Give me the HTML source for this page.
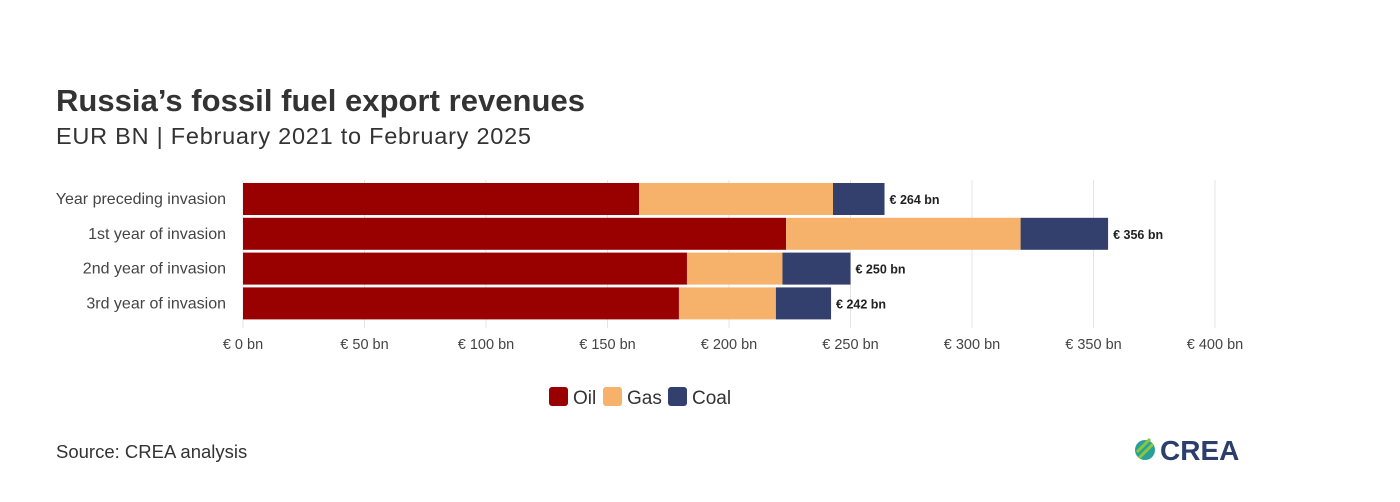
<!DOCTYPE html>
<html><head><meta charset="utf-8"><style>
body{margin:0;background:#fff;width:1400px;height:497px;overflow:hidden;font-family:"Liberation Sans",sans-serif}
</style></head><body>
<svg width="1400" height="497" xmlns="http://www.w3.org/2000/svg">
<text x="56" y="111" font-size="31" font-weight="bold" fill="#333" textLength="529">Russia’s fossil fuel export revenues</text>
<text x="56" y="144" font-size="23.5" fill="#333" textLength="475">EUR BN | February 2021 to February 2025</text>
<g id="grid"></g>
<g id="bars"></g>
<g id="labels"></g>
<g>
<rect x="549" y="387" width="19" height="19" rx="3" fill="#990000"/>
<text x="573" y="404" font-size="19" fill="#333">Oil</text>
<rect x="603" y="387" width="19" height="19" rx="3" fill="#f6b26b"/>
<text x="627" y="404" font-size="19" fill="#333">Gas</text>
<rect x="668" y="387" width="19" height="19" rx="3" fill="#33406e"/>
<text x="692" y="404" font-size="19" fill="#333">Coal</text>
</g>
<text x="56" y="458" font-size="18.5" fill="#333">Source: CREA analysis</text>
<g>
<circle cx="1145" cy="450" r="10" fill="#2aa198"/>
<path d="M1137 452 L1150 439 M1139 458 L1153 444" stroke="#8cc63f" stroke-width="3"/>
<text x="1160" y="460" font-size="28" font-weight="bold" fill="#2c3e6b">CREA</text>
</g>
</svg>
<script>
const categories=["Year preceding invasion","1st year of invasion","2nd year of invasion","3rd year of invasion"];
const oil=[163,223.5,182.7,179.4];
const gas=[79.8,96.5,39.3,39.9];
const coal=[21.2,36,28,22.7];
const totals=[264,356,250,242];
const ticks=[0,50,100,150,200,250,300,350,400];
const NS="http://www.w3.org/2000/svg";
const x0=243,x1=1215,vmax=400;
const xs=v=>x0+v/vmax*(x1-x0);
const rowY=i=>183+i*34.8, bh=32;
function mk(t,a,p){const e=document.createElementNS(NS,t);for(const k in a)e.setAttribute(k,a[k]);p.appendChild(e);return e;}
const grid=document.getElementById('grid'),bars=document.getElementById('bars'),lab=document.getElementById('labels');
ticks.forEach(t=>{
 const l=mk('line',{x1:xs(t),x2:xs(t),y1:180,y2:328,stroke:'#e4e4e4','stroke-width':1},grid);
 
 
 const tx=mk('text',{x:xs(t),y:349,'font-size':14.5,fill:'#444','text-anchor':'middle'},grid);
 tx.textContent='€ '+t+' bn';
 
 
});
categories.forEach((c,i)=>{
 const y=rowY(i);
 const t=mk('text',{x:226,y:y+bh/2+5,'font-size':16,fill:'#444','text-anchor':'end'},lab);
 t.textContent=c;
 
 
 const segs=[[oil[i],'#990000','oil'],[gas[i],'#f6b26b','gas'],[coal[i],'#33406e','coal']];
 let acc=0;
 segs.forEach(s=>{
  const r=mk('rect',{x:xs(acc),y:y,width:xs(acc+s[0])-xs(acc),height:bh,fill:s[1]},bars);
  
  
  acc+=s[0];
 });
 const v=mk('text',{x:xs(acc)+5,y:y+bh/2+5,'font-size':12.5,'font-weight':'bold',fill:'#222'},lab);
 v.textContent='€ '+totals[i]+' bn';
 
 
});
</script>
</body></html>
